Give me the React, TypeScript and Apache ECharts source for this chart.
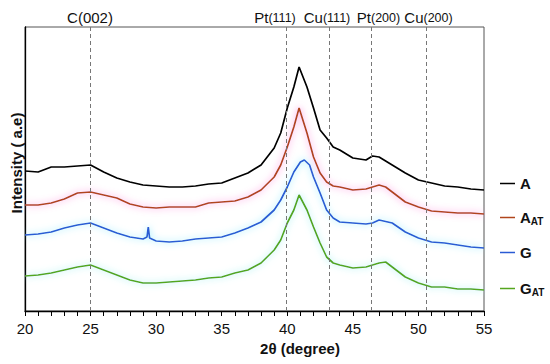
import React, { useEffect, useRef } from "react";
import * as echarts from "echarts";

// 2θ sampling (degrees) and intensities (arbitrary units)
const anglesA = [20, 21, 22, 23, 24, 25, 26, 27, 28, 29, 30, 31, 32, 33, 34, 35, 36, 37, 38, 39, 39.5, 40, 40.5, 40.9, 41.5, 42, 42.5, 43, 43.5, 44, 45, 46, 46.5, 47, 48, 49, 50, 51, 52, 53, 54, 55];
const intensityA = [140, 139, 144, 144, 145, 146, 139, 133, 129, 126, 125, 124, 124, 125, 127, 128, 133, 138, 146, 163, 178, 203, 224, 244, 224, 203, 181, 173, 164, 161, 153, 151, 155, 154, 146, 138, 131, 128, 125, 124, 122, 121];

const anglesAAT = [20, 21, 22, 23, 24, 25, 26, 27, 28, 29, 30, 31, 32, 33, 34, 35, 36, 37, 38, 39, 39.5, 40, 40.5, 40.9, 41.5, 42, 42.5, 43, 43.5, 44, 45, 46, 46.5, 47, 47.5, 48, 49, 50, 51, 52, 53, 54, 55];
const intensityAAT = [106, 106, 108, 112, 118, 119, 116, 113, 107, 104, 103, 104, 104, 104, 108, 109, 110, 114, 121, 134, 146, 164, 184, 203, 178, 154, 138, 129, 125, 124, 121, 122, 124, 126, 124, 119, 109, 104, 100, 99, 98, 98, 97];

const anglesG = [20, 21, 22, 23, 24, 25, 26, 27, 28, 29, 29.3, 29.4, 29.5, 30, 31, 32, 33, 34, 35, 36, 37, 38, 39, 39.5, 40, 40.5, 41, 41.3, 41.7, 42, 42.5, 43, 43.5, 44, 45, 46, 46.5, 47, 48, 49, 50, 51, 52, 53, 54, 55];
const intensityG = [76, 77, 79, 83, 86, 88, 83, 78, 74, 72, 74, 84, 73, 70, 69, 70, 72, 73, 74, 78, 83, 89, 101, 111, 124, 139, 149, 151, 146, 134, 118, 101, 93, 89, 88, 87, 88, 91, 88, 79, 73, 69, 68, 66, 64, 63];

const anglesGAT = [20, 21, 22, 23, 24, 25, 26, 27, 28, 29, 30, 31, 32, 33, 34, 35, 36, 37, 38, 39, 39.5, 40, 40.5, 40.9, 41.5, 42, 42.5, 43, 43.5, 44, 45, 46, 46.5, 47, 47.5, 48, 49, 50, 51, 52, 53, 54, 55];
const intensityGAT = [35, 36, 38, 41, 44, 46, 41, 36, 31, 28, 28, 29, 30, 31, 33, 34, 38, 41, 48, 61, 71, 88, 101, 116, 101, 84, 68, 54, 48, 46, 43, 44, 46, 48, 49, 44, 34, 28, 24, 24, 22, 22, 21];

const seriesNames = ["A", "A_AT", "G", "G_AT"];
const peakPositions = [25, 39.9, 43.2, 46.4, 50.6];
const xTicks = [20, 25, 30, 35, 40, 45, 50, 55];

const pair = (xs: number[], ys: number[]) => xs.map((x, i) => [x, ys[i]]);

export default function App() {
  const ref = useRef<HTMLDivElement>(null);
  useEffect(() => {
    if (!ref.current) return;
    const chart = echarts.init(ref.current, undefined, { renderer: "svg" });
    const font = "Arial, 'Liberation Sans', sans-serif";
    const colors = ["#000000", "#b0461c", "#2a5bd4", "#55a61e"];
    const glows = ["rgba(0,0,0,0)", "#ff80d8", "#80e8ff", "#90eeee"];
    const datasets = [
      pair(anglesA, intensityA),
      pair(anglesAAT, intensityAAT),
      pair(anglesG, intensityG),
      pair(anglesGAT, intensityGAT),
    ];
    const legendY = [180, 214, 249, 285];
    const rich = {
      n: { fontSize: 15, fontWeight: "bold" as const, color: "#111", fontFamily: font },
      s: { fontSize: 10, fontWeight: "bold" as const, color: "#111", fontFamily: font, padding: [7, 0, 0, 0] },
    };
    chart.setOption({
      animation: false,
      grid: { left: 25, right: 66, top: 27, bottom: 53, show: true, borderColor: "#555", borderWidth: 1 },
      xAxis: {
        type: "value",
        min: 20,
        max: 55,
        interval: 5,
        axisLine: { show: true, lineStyle: { color: "#000", width: 1.3 } },
        axisTick: { show: true, inside: false, length: 5, lineStyle: { color: "#000" } },
        minorTick: { show: true, splitNumber: 5, length: 5, lineStyle: { color: "#000" } },
        splitLine: { show: false },
        axisLabel: {
          margin: 10,
          fontSize: 15,
          color: "#111",
          fontFamily: font,
          formatter: (v: number) => (xTicks.includes(v) ? String(v) : ""),
        },
      },
      yAxis: {
        type: "value",
        min: 0,
        max: 284,
        axisLine: { show: true, lineStyle: { color: "#000", width: 1.3 } },
        axisTick: { show: false },
        axisLabel: { show: false },
        splitLine: { show: false },
      },
      legend: seriesNames.map((name, i) => ({
        data: [name],
        orient: "vertical",
        left: 495,
        top: legendY[i] - 9,
        icon: "rect",
        itemWidth: 15,
        itemHeight: 1.5,
        itemGap: 0,
        selectedMode: false,
        formatter: (n: string) => (n.includes("_") ? `{n|${n.split("_")[0]}}{s|${n.split("_")[1]}}` : `{n|${n}}`),
        textStyle: { rich },
      })),
      series: seriesNames.map((name, i) => ({
        name,
        type: "line",
        data: datasets[i],
        showSymbol: false,
        symbol: "none",
        color: colors[i],
        lineStyle: {
          color: colors[i],
          width: 1.7,
          shadowColor: glows[i],
          shadowBlur: i === 0 ? 0 : 7,
        },
        z: 4 - i,
        markLine:
          i === 0
            ? {
                silent: true,
                symbol: "none",
                label: { show: false },
                lineStyle: { color: "#777", type: [4, 3], width: 1 },
                data: peakPositions.map((p) => ({ xAxis: p })),
              }
            : undefined,
      })),
      graphic: [
        {
          type: "text",
          x: 90,
          y: 17,
          style: { text: "C(002)", fontSize: 15, fill: "#111", fontFamily: font, align: "center", verticalAlign: "middle" },
        },
        ...[
          ["Pt", "(111)", 275],
          ["Cu", "(111)", 327],
          ["Pt", "(200)", 378.5],
          ["Cu", "(200)", 428.5],
        ].map(([a, b, cx]) => ({
          type: "text",
          x: cx as number,
          y: 17,
          style: {
            text: `{a|${a}}{b|${b}}`,
            align: "center",
            verticalAlign: "middle",
            rich: {
              a: { fontSize: 15, fill: "#111", fontFamily: font },
              b: { fontSize: 12.5, fill: "#111", fontFamily: font, padding: [2, 0, 0, 0] },
            },
          },
        })),
        {
          type: "text",
          x: 300,
          y: 348,
          style: { text: "2θ (degree)", fontSize: 15, fontWeight: "bold", fill: "#111", fontFamily: font, align: "center", verticalAlign: "middle" },
        },
        {
          type: "text",
          x: 16,
          y: 163,
          rotation: Math.PI / 2,
          style: { text: "Intensity ( a.e)", fontSize: 15, fontWeight: "bold", fill: "#111", fontFamily: font, align: "center", verticalAlign: "middle" },
        },
      ],
    });
    return () => chart.dispose();
  }, []);
  return <div ref={ref} style={{ width: 550, height: 364, position: "absolute", left: 0, top: 0 }} />;
}
